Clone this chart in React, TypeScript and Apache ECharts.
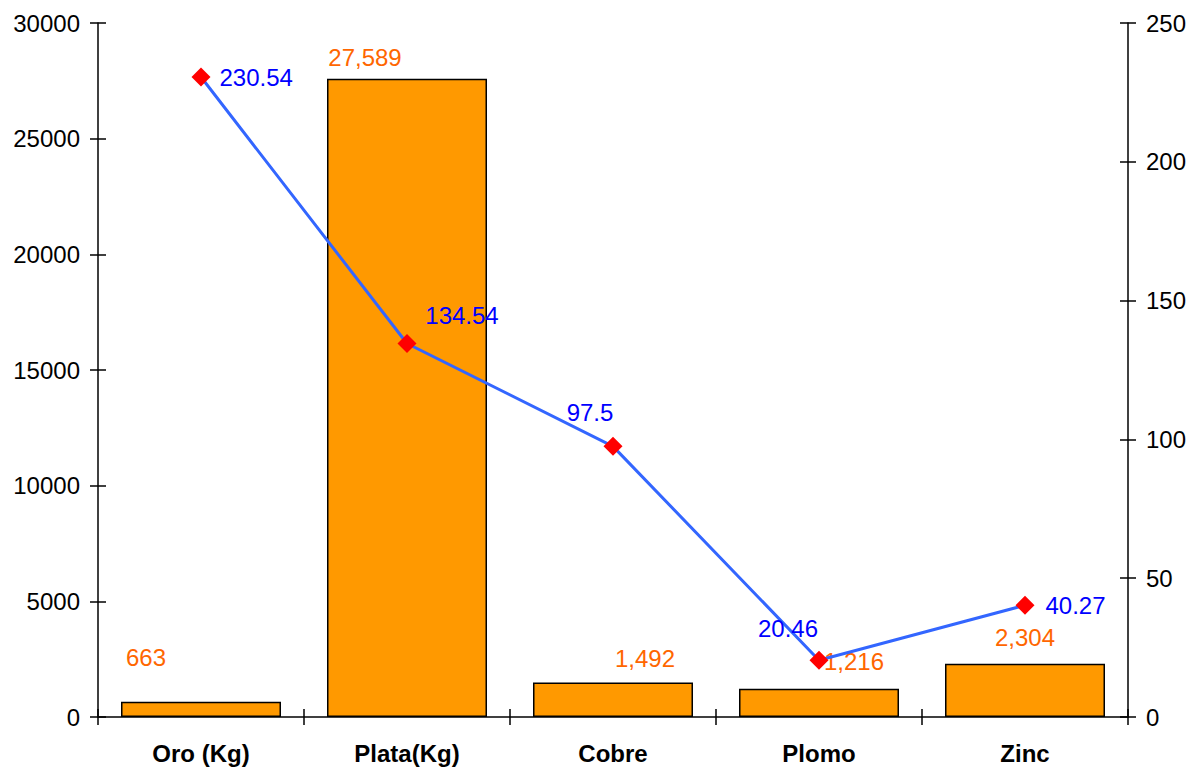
import React, { useEffect, useRef } from "react";
import * as echarts from "echarts";

const categories = ["Oro (Kg)", "Plata(Kg)", "Cobre", "Plomo", "Zinc"];
const barValues = [663, 27589, 1492, 1216, 2304];
const lineValues = [230.54, 134.54, 97.5, 20.46, 40.27];
const barLabelOffsets: [number, number][] = [[-55, -27], [-42, -4], [32, -7], [35, -10], [0, -9]];
const linePositions = ["right", "top", "top", "top", "right"];
const lineLabelOffsets: [number, number][] = [[4, 0], [55, -2], [-23, -7], [-31, -5], [6, 0]];

const FONT = "Liberation Sans, Arial, sans-serif";

export default function App() {
  const ref = useRef<HTMLDivElement>(null);
  useEffect(() => {
    document.body.style.margin = "0";
    const chart = echarts.init(ref.current!, null, { renderer: "svg" });
    const axisLine = { show: true, lineStyle: { color: "#000", width: 1.5 } };
    const tickStyle = { color: "#000", width: 1.5 };
    const yBase = (min: number, max: number, interval: number, position: string) => ({
      type: "value",
      min,
      max,
      interval,
      position,
      splitLine: { show: false },
      axisLine,
    });
    const tickLabel = { color: "#000", fontSize: 24, fontFamily: FONT, margin: 18, formatter: (v: number) => String(v) };
    chart.setOption({
      animation: false,
      textStyle: { fontFamily: FONT },
      grid: { left: 98, right: 70, top: 23, bottom: 52, containLabel: false },
      xAxis: [
        {
          type: "category",
          data: categories,
          position: "bottom",
          axisLine,
          axisTick: { show: true, length: 8, lineStyle: tickStyle },
          axisLabel: { color: "#000", fontSize: 24, fontWeight: "bold", fontFamily: FONT, margin: 24 },
        },
        {
          type: "category",
          data: categories,
          position: "bottom",
          axisLine: { show: false },
          axisTick: { show: true, inside: true, length: 8, lineStyle: tickStyle },
          axisLabel: { show: false },
        },
      ],
      yAxis: [
        {
          ...yBase(0, 30000, 5000, "left"),
          axisTick: { show: true, length: 8, lineStyle: tickStyle },
          axisLabel: tickLabel,
        },
        {
          ...yBase(0, 250, 50, "right"),
          axisTick: { show: true, length: 8, lineStyle: tickStyle },
          axisLabel: tickLabel,
        },
        {
          ...yBase(0, 30000, 5000, "left"),
          axisLine: { show: false },
          axisTick: { show: true, inside: true, length: 8, lineStyle: tickStyle },
          axisLabel: { show: false },
        },
        {
          ...yBase(0, 250, 50, "right"),
          axisLine: { show: false },
          axisTick: { show: true, inside: true, length: 8, lineStyle: tickStyle },
          axisLabel: { show: false },
        },
      ],
      series: [
        {
          type: "bar",
          xAxisIndex: 0,
          yAxisIndex: 0,
          barWidth: 160,
          data: barValues.map((v, i) => ({
            value: v,
            label: { offset: barLabelOffsets[i] },
          })),
          itemStyle: { color: "#FF9900", borderColor: "#000", borderWidth: 1.5 },
          label: {
            show: true,
            position: "top",
            color: "#FF6600",
            fontSize: 24,
            fontFamily: FONT,
            formatter: (p: any) => Number(p.value).toLocaleString("en-US"),
          },
        },
        {
          type: "line",
          xAxisIndex: 0,
          yAxisIndex: 1,
          data: lineValues.map((v, i) => ({
            value: v,
            label: { position: linePositions[i], offset: lineLabelOffsets[i] },
          })),
          symbol: "diamond",
          symbolSize: 19,
          itemStyle: { color: "#FF0000" },
          lineStyle: { color: "#3366FF", width: 3 },
          z: 5,
          label: {
            show: true,
            color: "#0000FF",
            fontSize: 24,
            fontFamily: FONT,
            formatter: (p: any) => String(p.value),
          },
        },
      ],
    });
    return () => chart.dispose();
  }, []);
  return <div ref={ref} style={{ width: 1198, height: 769 }} />;
}
